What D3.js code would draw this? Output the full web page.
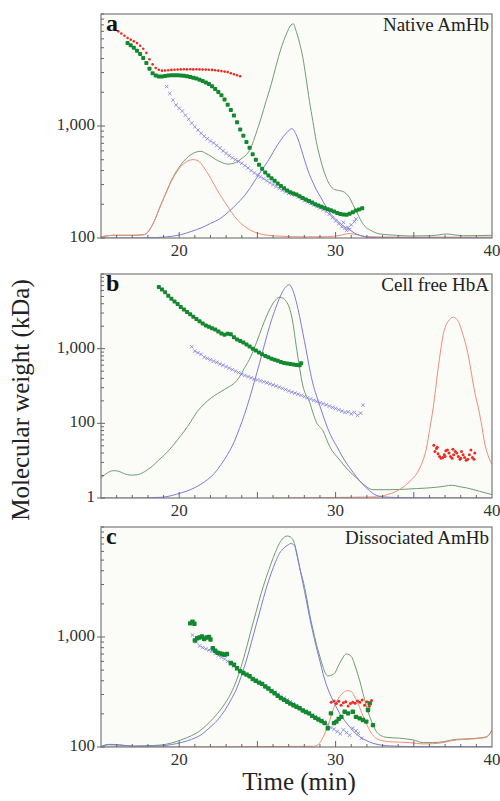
<!DOCTYPE html>
<meta charset="utf-8">
<script src="https://d3js.org/d3.v7.min.js"></script>
<style>
  body { margin: 0; background: #fff; }
  text { font-family: "Liberation Serif", "Times New Roman", Times, serif; }
</style>
<div id="my_dataviz"></div>
<script>

// ---------- data ----------
// signal traces: [time (min), relative detector signal 0..1]
var aGreenLine = [[15,0.005],[15.8,0.012],[17.0,0.012],[17.76,0.015],[18.18,0.045],[18.5,0.09],[18.83,0.149],[19.15,0.2],[19.47,0.253],[19.8,0.295],[20.11,0.327],[20.45,0.355],[20.75,0.372],[21.1,0.384],[21.39,0.387],[21.7,0.378],[22.03,0.365],[22.35,0.35],[22.67,0.339],[23.1,0.330],[23.45,0.333],[23.74,0.342],[24.05,0.358],[24.38,0.379],[24.6,0.405],[24.81,0.446],[25.24,0.536],[25.55,0.61],[25.88,0.685],[26.2,0.77],[26.52,0.848],[26.85,0.91],[27.16,0.952],[27.3,0.956],[27.48,0.923],[27.7,0.87],[27.91,0.804],[28.1,0.72],[28.33,0.610],[28.55,0.52],[28.76,0.432],[29.0,0.36],[29.19,0.3125],[29.4,0.27],[29.62,0.238],[29.94,0.216],[30.2,0.212],[30.47,0.208],[30.7,0.196],[30.9,0.179],[31.1,0.15],[31.33,0.119],[31.65,0.074],[31.9,0.05],[32.18,0.037],[32.5,0.025],[32.82,0.018],[33.89,0.012],[34.74,0.009],[36.03,0.010],[36.6,0.014],[37.1,0.018],[37.6,0.014],[38.16,0.010],[40,0.012]];
var aRedLine = [[15,0.005],[15.8,0.012],[17.0,0.012],[17.76,0.015],[18.18,0.045],[18.5,0.09],[18.83,0.149],[19.15,0.2],[19.47,0.25],[19.8,0.29],[20.11,0.32],[20.45,0.34],[20.9,0.35],[21.2,0.345],[21.6,0.3125],[21.9,0.28],[22.24,0.238],[22.55,0.2],[22.88,0.164],[23.2,0.13],[23.53,0.097],[23.85,0.072],[24.17,0.052],[24.5,0.037],[24.8,0.027],[25.2,0.018],[25.66,0.012],[26.5,0.008],[28,0.005],[29.5,0.006],[30.3,0.012],[30.9,0.02],[31.4,0.014],[32,0.006],[34,0.004],[40,0.004]];
var aBlueLine = [[15,0],[18,0.001],[19.2,0.005],[20.1,0.015],[20.8,0.03],[21.4,0.045],[22.0,0.065],[22.67,0.089],[23.2,0.12],[23.74,0.156],[24.3,0.2],[24.81,0.253],[25.25,0.3],[25.66,0.342],[26.0,0.382],[26.3,0.417],[26.65,0.452],[26.95,0.476],[27.2,0.488],[27.48,0.461],[27.7,0.42],[27.91,0.372],[28.12,0.325],[28.33,0.283],[28.55,0.248],[28.76,0.216],[29.0,0.188],[29.19,0.164],[29.4,0.138],[29.62,0.112],[29.95,0.088],[30.26,0.067],[30.58,0.05],[30.9,0.037],[31.2,0.022],[31.54,0.012],[31.85,0.006],[32.18,0.003],[33,0.001],[40,0]];

var bGreenLine = [[15,0.089],[15.4,0.112],[15.8,0.122],[16.1,0.12],[16.5,0.108],[16.9,0.102],[17.33,0.104],[17.7,0.114],[17.97,0.126],[18.3,0.143],[18.61,0.164],[19.05,0.192],[19.47,0.223],[19.9,0.26],[20.32,0.298],[20.75,0.342],[21.17,0.387],[21.6,0.42],[22.03,0.446],[22.45,0.466],[22.88,0.484],[23.2,0.497],[23.53,0.513],[23.85,0.54],[24.17,0.580],[24.5,0.62],[24.81,0.670],[25.13,0.73],[25.45,0.789],[25.77,0.84],[26.09,0.878],[26.41,0.896],[26.65,0.892],[26.84,0.878],[27.05,0.848],[27.25,0.79],[27.48,0.68],[27.7,0.58],[27.91,0.5],[28.1,0.46],[28.33,0.43],[28.55,0.38],[28.76,0.34],[29.19,0.3],[29.62,0.23],[30.26,0.17],[30.8,0.125],[31.33,0.09],[31.8,0.06],[32.39,0.037],[33.46,0.037],[35.17,0.042],[36.46,0.048],[37.0,0.053],[37.42,0.057],[37.9,0.051],[38.38,0.045],[39.2,0.03],[40,0.015]];
var bRedLine = [[26,0],[32.6,0.005],[33.3,0.015],[33.89,0.030],[34.35,0.05],[34.74,0.074],[35.1,0.1],[35.38,0.134],[35.6,0.17],[35.81,0.223],[36.0,0.3],[36.24,0.402],[36.4,0.49],[36.56,0.580],[36.72,0.66],[36.88,0.729],[37.05,0.77],[37.2,0.789],[37.52,0.807],[37.84,0.789],[38.05,0.75],[38.27,0.699],[38.5,0.63],[38.7,0.551],[38.9,0.47],[39.13,0.402],[39.35,0.32],[39.55,0.238],[39.75,0.19],[40,0.149]];
var bBlueLine = [[15,0],[17,0],[18.83,0.003],[19.89,0.018],[20.96,0.045],[21.81,0.082],[22.25,0.11],[22.67,0.149],[23.1,0.195],[23.53,0.253],[23.85,0.31],[24.17,0.372],[24.5,0.445],[24.81,0.521],[25.13,0.6],[25.45,0.684],[25.77,0.765],[26.09,0.833],[26.4,0.89],[26.62,0.923],[26.85,0.945],[27.05,0.952],[27.25,0.93],[27.48,0.878],[27.7,0.81],[27.91,0.735],[28.12,0.66],[28.33,0.58],[28.55,0.51],[28.76,0.46],[29.0,0.41],[29.19,0.37],[29.5,0.31],[29.83,0.26],[30.04,0.235],[30.47,0.18],[30.9,0.135],[31.33,0.095],[31.75,0.06],[32.18,0.032],[32.5,0.015],[32.82,0.008],[33.5,0.003],[35,0.001],[40,0]];

var cGreenLine = [[15,0.002],[15.5,0.01],[16.2,0.008],[17,0.004],[18.0,0.006],[18.83,0.009],[19.5,0.018],[20.11,0.032],[20.8,0.052],[21.39,0.077],[21.9,0.11],[22.46,0.153],[22.9,0.195],[23.31,0.244],[23.65,0.3],[23.96,0.365],[24.3,0.45],[24.6,0.532],[24.92,0.615],[25.24,0.698],[25.56,0.77],[25.88,0.835],[26.15,0.885],[26.41,0.926],[26.65,0.95],[26.9,0.959],[27.1,0.955],[27.37,0.925],[27.55,0.87],[27.75,0.8],[27.91,0.759],[28.12,0.69],[28.33,0.608],[28.55,0.535],[28.76,0.471],[29.0,0.41],[29.19,0.365],[29.35,0.335],[29.51,0.323],[29.7,0.326],[29.94,0.335],[30.15,0.365],[30.37,0.395],[30.69,0.423],[31.01,0.411],[31.17,0.385],[31.33,0.350],[31.55,0.3],[31.75,0.244],[31.95,0.19],[32.18,0.138],[32.4,0.1],[32.61,0.070],[32.9,0.052],[33.25,0.044],[34.1,0.040],[34.96,0.032],[35.6,0.020],[36.2,0.02],[36.88,0.024],[37.3,0.03],[37.73,0.035],[38.4,0.037],[39.02,0.040],[39.66,0.047],[39.85,0.06],[40,0.077]];
var cRedLine = [[15,0],[28.6,0.003],[28.97,0.017],[29.2,0.045],[29.4,0.077],[29.62,0.12],[29.83,0.168],[30.05,0.205],[30.26,0.229],[30.5,0.248],[30.75,0.256],[31.01,0.252],[31.2,0.232],[31.43,0.198],[31.65,0.16],[31.86,0.123],[32.08,0.09],[32.29,0.062],[32.55,0.042],[32.82,0.032],[33.46,0.024],[34.74,0.020],[35.6,0.014],[36.2,0.015],[36.88,0.020],[37.3,0.027],[37.73,0.032],[38.4,0.035],[39.02,0.038],[39.66,0.045],[39.85,0.058],[40,0.077]];
var cBlueLine = [[15,0.002],[15.5,0.012],[16.2,0.01],[17,0.004],[18,0.004],[18.83,0.005],[19.5,0.011],[20.11,0.020],[20.8,0.035],[21.39,0.055],[21.9,0.085],[22.46,0.123],[22.9,0.165],[23.31,0.214],[23.65,0.262],[23.96,0.320],[24.3,0.395],[24.6,0.471],[24.92,0.555],[25.24,0.638],[25.56,0.72],[25.88,0.789],[26.15,0.84],[26.41,0.880],[26.7,0.905],[26.95,0.918],[27.15,0.925],[27.37,0.915],[27.55,0.865],[27.75,0.8],[27.91,0.744],[28.12,0.67],[28.33,0.592],[28.55,0.52],[28.76,0.456],[29.0,0.39],[29.19,0.335],[29.4,0.285],[29.62,0.244],[29.95,0.195],[30.26,0.153],[30.58,0.12],[30.9,0.092],[31.2,0.067],[31.54,0.047],[31.95,0.03],[32.39,0.017],[32.9,0.009],[33.46,0.005],[35,0.002],[40,0.001]];

// molecular weight points: [time (min), kDa]
var aRedMW = [[16.1,7000],[16.3,6700],[16.5,6400],[16.7,6100],[16.9,5900],[17.1,5700],[17.3,5500],[17.5,5200],[17.7,4900],[17.9,4500],[18.1,3950],[18.3,3550],[18.5,3300],[18.7,3180],[18.9,3120],[19.1,3130],[19.3,3150],[19.5,3170],[19.7,3180],[19.9,3190],[20.1,3200],[20.3,3210],[20.5,3200],[20.7,3210],[20.9,3200],[21.1,3210],[21.3,3200],[21.5,3190],[21.7,3190],[21.9,3180],[22.1,3170],[22.3,3150],[22.5,3120],[22.7,3090],[22.9,3060],[23.1,3030],[23.3,2960],[23.5,2900],[23.7,2840],[23.9,2780]];
var aGreenMW = [[16.7,5500],[16.9,5250],[17.1,5000],[17.3,4700],[17.5,4400],[17.7,4050],[17.9,3650],[18.1,3250],[18.3,2960],[18.5,2820],[18.7,2760],[18.9,2760],[19.1,2790],[19.3,2820],[19.5,2840],[19.7,2840],[19.9,2840],[20.1,2830],[20.3,2810],[20.5,2780],[20.7,2740],[20.9,2700],[21.1,2650],[21.3,2590],[21.5,2520],[21.7,2450],[21.9,2370],[22.1,2260],[22.3,2140],[22.5,2010],[22.7,1880],[22.9,1720],[23.1,1550],[23.3,1390],[23.5,1240],[23.7,1080],[23.9,930],[24.1,820],[24.3,720],[24.5,640],[24.7,560],[24.9,500],[25.1,450],[25.3,415],[25.5,385],[25.7,362],[25.9,342],[26.1,324],[26.3,306],[26.5,291],[26.7,278],[26.9,266],[27.1,256],[27.3,250],[27.5,244],[27.7,236],[27.9,228],[28.1,221],[28.3,214],[28.5,207],[28.7,200],[28.9,195],[29.1,190],[29.3,185],[29.5,181],[29.7,177],[29.9,172],[30.1,167],[30.3,164],[30.5,162],[30.7,161],[30.9,165],[31.1,170],[31.3,176],[31.5,180],[31.7,184]];
var aBlueMW = [[19.2,2250],[19.4,1950],[19.6,1700],[19.8,1540],[20.0,1440],[20.2,1360],[20.4,1250],[20.6,1150],[20.8,1060],[21.0,985],[21.2,920],[21.4,860],[21.6,810],[21.8,770],[22.0,735],[22.2,705],[22.4,670],[22.6,635],[22.8,600],[23.0,570],[23.2,545],[23.4,520],[23.6,500],[23.8,482],[24.0,465],[24.2,443],[24.4,422],[24.6,400],[24.8,381],[25.0,366],[25.2,352],[25.4,338],[25.6,325],[25.8,312],[26.0,300],[26.2,288],[26.4,277],[26.6,267],[26.8,258],[27.0,251],[27.2,246],[27.4,242],[27.6,233],[27.8,224],[28.0,216],[28.2,209],[28.4,203],[28.6,197],[28.8,191],[29.0,185],[29.2,179],[29.4,172],[29.6,163],[29.8,152],[30.0,142],[30.2,134],[30.4,126],[30.6,122],[30.8,124],[31.0,131],[31.2,140],[31.3,148],[30.5,138],[30.7,117],[30.9,119]];

var bGreenMW = [[18.7,6700],[18.9,6200],[19.1,5700],[19.3,5100],[19.5,4650],[19.7,4280],[19.9,3950],[20.1,3620],[20.3,3340],[20.5,3100],[20.7,2880],[20.9,2680],[21.1,2500],[21.3,2330],[21.5,2170],[21.7,2050],[21.9,1960],[22.1,1880],[22.3,1800],[22.5,1700],[22.7,1600],[22.9,1540],[23.1,1580],[23.3,1560],[23.5,1420],[23.7,1330],[23.9,1270],[24.1,1210],[24.3,1140],[24.5,1070],[24.7,1000],[24.9,945],[25.1,890],[25.3,840],[25.5,800],[25.7,765],[25.9,735],[26.1,710],[26.3,690],[26.5,665],[26.7,645],[26.9,635],[27.1,625],[27.3,612],[27.5,605],[27.7,600],[27.8,640]];
var bBlueMW = [[20.8,1060],[21.0,930],[21.2,880],[21.4,840],[21.6,770],[21.8,740],[22.0,710],[22.2,680],[22.4,655],[22.6,625],[22.8,600],[23.0,575],[23.2,550],[23.4,525],[23.6,500],[23.8,478],[24.0,455],[24.2,438],[24.4,422],[24.6,406],[24.8,392],[25.0,381],[25.2,370],[25.4,360],[25.6,349],[25.8,338],[26.0,327],[26.2,316],[26.4,305],[26.6,294],[26.8,283],[27.0,272],[27.2,262],[27.4,254],[27.6,246],[27.8,237],[28.0,228],[28.2,219],[28.4,211],[28.6,203],[28.8,196],[29.0,189],[29.2,183],[29.4,177],[29.6,170],[29.8,164],[30.0,158],[30.2,152],[30.4,146],[30.6,140],[30.8,143],[31.0,134],[31.2,140],[31.4,128],[31.6,137],[31.75,175]];
var bRedMW = [[36.28,51],[36.45,46],[36.35,42],[36.55,39],[36.65,36],[36.75,34],[36.85,35],[36.95,38],[37.05,43],[37.15,44],[37.25,40],[37.35,36],[37.45,34],[37.55,38],[37.65,42],[37.75,40],[37.85,36],[37.95,33],[38.05,42],[38.15,38],[38.25,35],[38.35,32],[38.45,33],[38.55,38],[38.65,44],[38.75,35],[38.85,33],[36.5,48],[37.0,36],[37.5,45],[38.0,34],[38.9,40]];

var cGreenMW = [[20.7,1330],[20.85,1380],[20.97,1320],[21.0,930],[21.15,975],[21.3,990],[21.45,1010],[21.6,960],[21.75,990],[21.9,1000],[22.0,950],[22.15,790],[22.3,750],[22.45,720],[22.6,710],[22.75,700],[22.9,690],[23.05,700],[23.3,580],[23.5,560],[23.7,520],[23.9,490],[24.1,470],[24.3,455],[24.5,440],[24.7,415],[24.9,400],[25.1,385],[25.3,375],[25.5,355],[25.7,340],[25.9,322],[26.1,308],[26.3,292],[26.5,278],[26.7,268],[26.9,258],[27.1,248],[27.3,240],[27.5,232],[27.7,225],[27.9,215],[28.1,208],[28.3,202],[28.5,192],[28.7,184],[28.9,178],[29.1,172],[29.3,165],[29.5,148],[29.7,202],[29.9,165],[30.05,170],[30.2,180],[30.37,188],[30.58,209],[30.8,202],[31.1,209],[31.3,188],[31.54,182],[31.75,176],[31.96,170],[32.07,217],[32.18,249],[32.39,158]];
var cBlueMW = [[20.85,1040],[21.1,900],[21.3,830],[21.5,800],[21.7,780],[21.9,760],[22.1,740],[22.3,710],[22.5,680],[22.7,655],[22.9,630],[23.1,600],[23.3,570],[23.5,540],[23.7,515],[23.9,492],[24.1,475],[24.3,458],[24.5,440],[24.7,420],[24.9,402],[25.1,388],[25.3,373],[25.5,358],[25.7,342],[25.9,328],[26.1,316],[26.3,302],[26.5,290],[26.7,278],[26.9,268],[27.1,257],[27.3,247],[27.5,238],[27.7,228],[27.9,217],[28.1,209],[28.3,202],[28.5,195],[28.7,189],[28.9,183],[29.1,176],[29.3,170],[29.5,160],[29.7,150],[29.9,145],[30.1,138],[30.3,132],[30.5,143],[30.7,135],[30.9,128],[31.1,148],[31.3,140],[31.45,133],[31.65,120]];
var cRedMW = [[29.72,255],[29.9,262],[30.05,248],[30.2,260],[30.35,240],[30.5,252],[30.65,258],[30.8,236],[30.95,248],[31.1,255],[31.25,250],[31.4,262],[31.55,255],[31.7,268],[31.85,240],[32.0,258],[32.15,235],[32.3,265]];

// tick labels
var xTicks = [20, 30, 40];
var aYTicks = [100, 1000], aYLabels = ["100", "1,000"];
var bYTicks = [10, 100, 1000], bYLabels = ["1", "100", "1,000"];
var cYTicks = [100, 1000], cYLabels = ["100", "1,000"];
var titles = ["Native AmHb", "Cell free HbA", "Dissociated AmHb"];
var letters = ["a", "b", "c"];

// ---------- layout ----------
var width = 500, height = 801;
var left = 101, right = 492;

var panels = [
  {top: 14,  bottom: 238, domain: [100, 10000], ticks: aYTicks, labels: aYLabels,
   lines: [aGreenLine, aRedLine, aBlueLine], green: aGreenMW, red: aRedMW, blue: aBlueMW, redR: 1.3, sq: 4},
  {top: 274, bottom: 498, domain: [10, 10000], ticks: bYTicks, labels: bYLabels,
   lines: [bGreenLine, bRedLine, bBlueLine], green: bGreenMW, red: bRedMW, blue: bBlueMW, redR: 1.5, sq: 4},
  {top: 527, bottom: 747, domain: [100, 10000], ticks: cYTicks, labels: cYLabels,
   lines: [cGreenLine, cRedLine, cBlueLine], green: cGreenMW, red: cRedMW, blue: cBlueMW, redR: 1.5, sq: 4.4}
];

var lineColors = ["#6e9e70", "#f28c7a", "#7b7bdb"];
var greenDot = "#12882f", redDot = "#ef2b1f", blueCross = "#8585e0";

var svg = d3.select("#my_dataviz")
  .append("svg")
    .attr("width", width)
    .attr("height", height);

var x = d3.scaleLinear().domain([15, 40]).range([left, right]);

panels.forEach(function(p, i) {
  var y = d3.scaleLog().domain(p.domain).range([p.bottom, p.top]);
  var s = d3.scaleLinear().domain([0, 1]).range([p.bottom, p.top]);
  var g = svg.append("g");

  // plot background
  g.append("rect")
    .attr("x", left).attr("y", p.top)
    .attr("width", right - left).attr("height", p.bottom - p.top)
    .attr("fill", "#fbfbf8");

  g.append("clipPath").attr("id", "clip" + i)
    .append("rect")
    .attr("x", left).attr("y", p.top)
    .attr("width", right - left).attr("height", p.bottom - p.top);

  var plot = g.append("g").attr("clip-path", "url(#clip" + i + ")");

  // detector traces
  var line = d3.line()
    .x(function(d) { return x(d[0]); })
    .y(function(d) { return s(d[1]); })
    .curve(d3.curveMonotoneX);

  p.lines.forEach(function(l, k) {
    plot.append("path")
      .datum(l)
      .attr("d", line)
      .attr("fill", "none")
      .attr("stroke", lineColors[k])
      .attr("stroke-width", 1);
  });

  // blue crosses
  plot.selectAll(".bx")
    .data(p.blue)
    .enter()
    .append("path")
      .attr("transform", function(d) { return "translate(" + x(d[0]) + "," + y(d[1]) + ")"; })
      .attr("d", "M-1.7,-1.7L1.7,1.7M-1.7,1.7L1.7,-1.7")
      .attr("stroke", blueCross)
      .attr("stroke-width", 0.9);

  // green points (small squares)
  plot.selectAll(".gd")
    .data(p.green)
    .enter()
    .append("rect")
      .attr("x", function(d) { return x(d[0]) - p.sq / 2; })
      .attr("y", function(d) { return y(d[1]) - p.sq / 2; })
      .attr("width", p.sq).attr("height", p.sq)
      .attr("rx", 0.8)
      .attr("fill", greenDot);

  // red points
  plot.selectAll(".rd")
    .data(p.red)
    .enter()
    .append("circle")
      .attr("cx", function(d) { return x(d[0]); })
      .attr("cy", function(d) { return y(d[1]); })
      .attr("r", p.redR)
      .attr("fill", redDot);

  // frame
  g.append("rect")
    .attr("x", left).attr("y", p.top)
    .attr("width", right - left).attr("height", p.bottom - p.top)
    .attr("fill", "none")
    .attr("stroke", "#7a7a7a")
    .attr("stroke-width", 1.2);

  // bottom ticks (inside), every minute
  g.selectAll(".xt")
    .data(d3.range(16, 40))
    .enter()
    .append("line")
      .attr("x1", function(d) { return x(d); }).attr("x2", function(d) { return x(d); })
      .attr("y1", p.bottom)
      .attr("y2", function(d) { return p.bottom - (d % 5 === 0 ? 6 : 3); })
      .attr("stroke", "#666").attr("stroke-width", 1);

  g.selectAll(".xl")
    .data(xTicks)
    .enter()
    .append("text")
      .attr("x", function(d) { return x(d); })
      .attr("y", p.bottom + 14)
      .attr("text-anchor", "middle")
      .attr("dominant-baseline", "middle")
      .style("font-size", "17px")
      .style("fill", "#333")
      .text(function(d) { return d; });

  // left log ticks
  g.selectAll(".yt")
    .data(y.ticks())
    .enter()
    .append("line")
      .attr("x1", function(d) { return p.ticks.indexOf(d) >= 0 ? left - 4 : left; })
      .attr("x2", function(d) { return p.ticks.indexOf(d) >= 0 ? left + 4 : left + 3; })
      .attr("y1", function(d) { return y(d); }).attr("y2", function(d) { return y(d); })
      .attr("stroke", "#666").attr("stroke-width", 1);

  g.selectAll(".yl")
    .data(p.ticks)
    .enter()
    .append("text")
      .attr("x", left - 6)
      .attr("y", function(d) { return y(d); })
      .attr("text-anchor", "end")
      .attr("dominant-baseline", "middle")
      .style("font-size", "17px")
      .style("fill", "#333")
      .text(function(d, j) { return p.labels[j]; });

  // panel letter and title
  g.append("text")
    .attr("x", left + 5).attr("y", p.top + 17)
    .style("font-size", "24px").style("font-weight", "bold")
    .style("fill", "#111")
    .text(letters[i]);

  g.append("text")
    .attr("x", right - 3).attr("y", p.top + 17)
    .attr("text-anchor", "end")
    .style("font-size", "19px")
    .style("fill", "#222")
    .text(titles[i]);
});

// axis titles
svg.append("text")
  .attr("transform", "translate(29,400) rotate(-90)")
  .attr("text-anchor", "middle")
  .style("font-size", "25px")
  .style("fill", "#222")
  .text("Molecular weight (kDa)");

svg.append("text")
  .attr("x", 299).attr("y", 790)
  .attr("text-anchor", "middle")
  .style("font-size", "25px")
  .style("fill", "#222")
  .text("Time (min)");

</script>
